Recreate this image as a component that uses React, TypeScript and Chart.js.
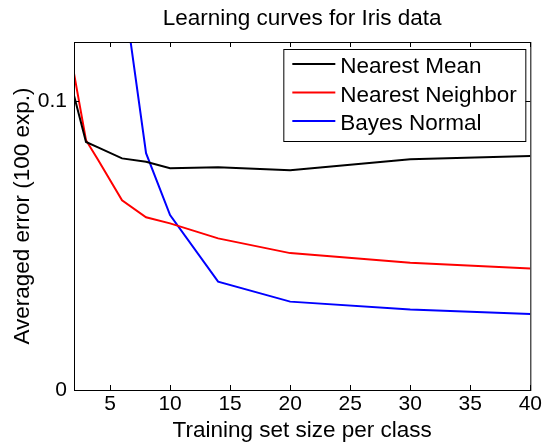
import React, { useEffect, useRef } from "react";
import { Chart, registerables } from "chart.js";

Chart.register(...registerables);

const trainSizes = [2, 3, 4, 6, 8, 10, 14, 20, 30, 40];
const nearestMean = [0.102, 0.0859, 0.084, 0.0802, 0.079, 0.0768, 0.0771, 0.0761, 0.0799, 0.081];
const nearestNeighbor = [0.1096, 0.0865, 0.0797, 0.0657, 0.0598, 0.0577, 0.0525, 0.0474, 0.0441, 0.0421];
const bayesNormal = [null, null, null, 0.142, 0.082, 0.0606, 0.0375, 0.0306, 0.0279, 0.0263];
const seriesNames = ["Nearest Mean", "Nearest Neighbor", "Bayes Normal"];
const seriesColors = ["#000000", "#ff0000", "#0000ff"];
const xTicks = [5, 10, 15, 20, 25, 30, 35, 40];
const yTicks = [0, 0.1];

const FONT = "'Liberation Sans', Arial, Helvetica, sans-serif";

const frameAndLegend = {
  id: "frameAndLegend",
  afterDatasetsDraw(chart: any) {
    const { ctx, chartArea: a, scales } = chart;
    ctx.save();
    ctx.strokeStyle = "#000";
    ctx.lineWidth = 1;
    ctx.strokeRect(a.left + 0.5, a.top + 0.5, a.right - a.left, a.bottom - a.top);
    const tl = 5;
    ctx.beginPath();
    scales.x.ticks.forEach((t: any) => {
      const px = Math.round(scales.x.getPixelForValue(t.value)) + 0.5;
      ctx.moveTo(px, a.bottom);
      ctx.lineTo(px, a.bottom - tl);
      ctx.moveTo(px, a.top);
      ctx.lineTo(px, a.top + tl);
    });
    scales.y.ticks.forEach((t: any) => {
      const py = Math.round(scales.y.getPixelForValue(t.value)) + 0.5;
      ctx.moveTo(a.left, py);
      ctx.lineTo(a.left + tl, py);
      ctx.moveTo(a.right, py);
      ctx.lineTo(a.right - tl, py);
    });
    ctx.stroke();

    // legend
    const bw = 242;
    const bh = 92;
    const bx = a.right - 5 - bw;
    const by = a.top + 7;
    ctx.fillStyle = "#fff";
    ctx.fillRect(bx, by, bw, bh);
    ctx.strokeStyle = "#000";
    ctx.lineWidth = 1;
    ctx.strokeRect(bx + 0.5, by + 0.5, bw, bh);
    chart.data.datasets.forEach((ds: any, i: number) => {
      const ly = by + 15 + i * 28.5;
      ctx.strokeStyle = ds.borderColor;
      ctx.lineWidth = 2;
      ctx.beginPath();
      ctx.moveTo(bx + 9, ly);
      ctx.lineTo(bx + 52, ly);
      ctx.stroke();
      ctx.fillStyle = "#000";
      ctx.font = `22.5px ${FONT}`;
      ctx.textBaseline = "middle";
      ctx.textAlign = "left";
      ctx.fillText(ds.label, bx + 57, ly + 3);
    });
    ctx.restore();
  },
};

export default function App() {
  const canvasRef = useRef<HTMLCanvasElement | null>(null);

  useEffect(() => {
    document.body.style.margin = "0";
    const canvas = canvasRef.current;
    if (!canvas) return;
    const series = [nearestMean, nearestNeighbor, bayesNormal];
    const chart = new Chart(canvas, {
      type: "line",
      data: {
        datasets: series.map((vals, i) => ({
          label: seriesNames[i],
          data: trainSizes.map((x, j) => ({ x, y: vals[j] })),
          borderColor: seriesColors[i],
          backgroundColor: seriesColors[i],
          borderWidth: 2,
          pointRadius: 0,
          tension: 0,
          fill: false,
        })),
      },
      options: {
        responsive: false,
        animation: false,
        events: [],
        layout: { padding: { left: 0, right: 13, top: 0, bottom: 0 } },
        plugins: {
          legend: { display: false },
          tooltip: { enabled: false },
          title: {
            display: true,
            text: "Learning curves for Iris data",
            fullSize: false,
            color: "#000",
            font: { family: FONT, size: 22.5, weight: "normal" },
            padding: { top: 5, bottom: 10 },
          },
        },
        scales: {
          x: {
            type: "linear",
            min: 2,
            max: 40,
            afterBuildTicks: (s: any) => {
              s.ticks = xTicks.map((v) => ({ value: v }));
            },
            afterFit: (s: any) => {
              s.height = 55;
            },
            grid: { display: false, drawTicks: false },
            border: { display: false },
            ticks: {
              color: "#000",
              font: { family: FONT, size: 21 },
              padding: 2,
              maxRotation: 0,
              autoSkip: false,
              callback: (v: any) => String(v),
            },
            title: {
              display: true,
              text: "Training set size per class",
              color: "#000",
              font: { family: FONT, size: 22.5 },
              padding: { top: 0, bottom: 1 },
            },
          },
          y: {
            type: "linear",
            min: 0,
            max: 0.1205,
            afterBuildTicks: (s: any) => {
              s.ticks = yTicks.map((v) => ({ value: v }));
            },
            afterFit: (s: any) => {
              s.width = 74;
            },
            grid: { display: false, drawTicks: false },
            border: { display: false },
            ticks: {
              color: "#000",
              font: { family: FONT, size: 21 },
              padding: 7,
              callback: (v: any) => String(v),
            },
            title: {
              display: true,
              text: "Averaged error (100 exp.)",
              color: "#000",
              font: { family: FONT, size: 22.5 },
              padding: { top: 9, bottom: 0 },
            },
          },
        },
      } as any,
      plugins: [frameAndLegend],
    });
    return () => chart.destroy();
  }, []);

  return (
    <div style={{ position: "absolute", left: 0, top: 0, width: 544, height: 445, background: "#fff" }}>
      <canvas ref={canvasRef} width={544} height={445} />
    </div>
  );
}
